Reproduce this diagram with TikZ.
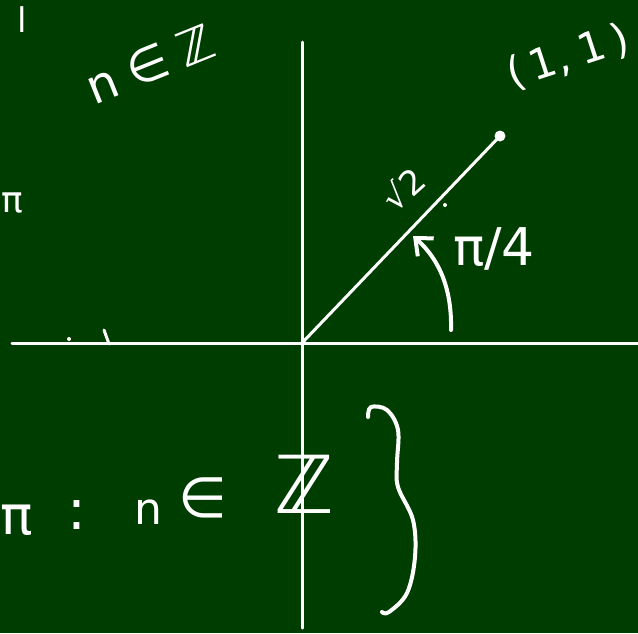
\documentclass[tikz,border=0pt]{standalone}
\usepackage{fontspec}
\setmainfont{DejaVu Sans}
\usetikzlibrary{arrows.meta}
\definecolor{board}{RGB}{0,61,0}
\begin{document}
\begin{tikzpicture}[x=1pt,y=-1pt,
  chalk/.style={white,line width=3pt,line cap=round,line join=round},
  ink/.style={white,line width=4pt,line cap=round,line join=round},
  lbl/.style={text=white,inner sep=0pt,font=\fontsize{40}{48}\selectfont}]
\fill[board] (0,0) rectangle (638,633);
\useasboundingbox (0,0) rectangle (638,633);
\begin{scope}
\clip (0,0) rectangle (638,633);
% axes
\coordinate (O) at (302,343);
\coordinate (yt) at (302,42);
\coordinate (yb) at (302,628);
\coordinate (xl) at (12,343);
\coordinate (xr) at (640,343);
\coordinate (P) at (500,136);
\draw[chalk] (xl) -- (xr);
\draw[chalk] (yt) -- (yb);
\draw[chalk] (O) -- (P);
\fill[white] (P) circle (5.5);
% marks on the x axis
\coordinate (t1) at (104,330);
\coordinate (t2) at (109,344);
\draw[chalk] (t1) -- (t2);
\fill[white] (69,339) circle (2);
\fill[white] (445,205) circle (2);
% angle arrow
\coordinate (a0) at (451,330);
\coordinate (a1) at (413,236);
\draw[ink,-{Straight Barb[length=14pt,width=24pt]}] (a0) .. controls (452,290) and (440,260) .. (a1);
% brace
\draw[ink] plot[smooth,tension=0.6] coordinates {(368,417) (371,407) (387,410) (398,430) (397,463) (398,487) (413,520) (415,557) (407,593) (389,612) (382,612)};
% labels
\node[lbl,font=\fontsize{34}{40}\selectfont] (l) at (22,20) {l};
\node[lbl,rotate=22,font=\fontsize{48}{56}\selectfont] (nz) at (150,64) {n\;∈\;ℤ};
\node[lbl,font=\fontsize{36}{40}\selectfont] (pileft) at (12,203) {π};
\node[lbl,rotate=18,font=\fontsize{42}{50}\selectfont] (pt) at (568,57) {(\,1,\;1\,)};
\node[lbl,rotate=42,font=\fontsize{34}{40}\selectfont] (r2) at (403,189) {√2};
\node[lbl,font=\fontsize{52}{60}\selectfont] (ang) at (494,249) {π/4};
\node[lbl,font=\fontsize{54}{64}\selectfont] (pib) at (17,520) {π};
\node[lbl,font=\fontsize{56}{64}\selectfont] (colon) at (77,515) {:};
\node[lbl,font=\fontsize{44}{50}\selectfont] (nb) at (148,512) {n};
\node[lbl,font=\fontsize{56}{64}\selectfont] (inb) at (203,498) {∈};
\node[lbl,font=\fontsize{80}{88}\selectfont] (zb) at (304,484) {ℤ};
\end{scope}
\end{tikzpicture}
\end{document}
